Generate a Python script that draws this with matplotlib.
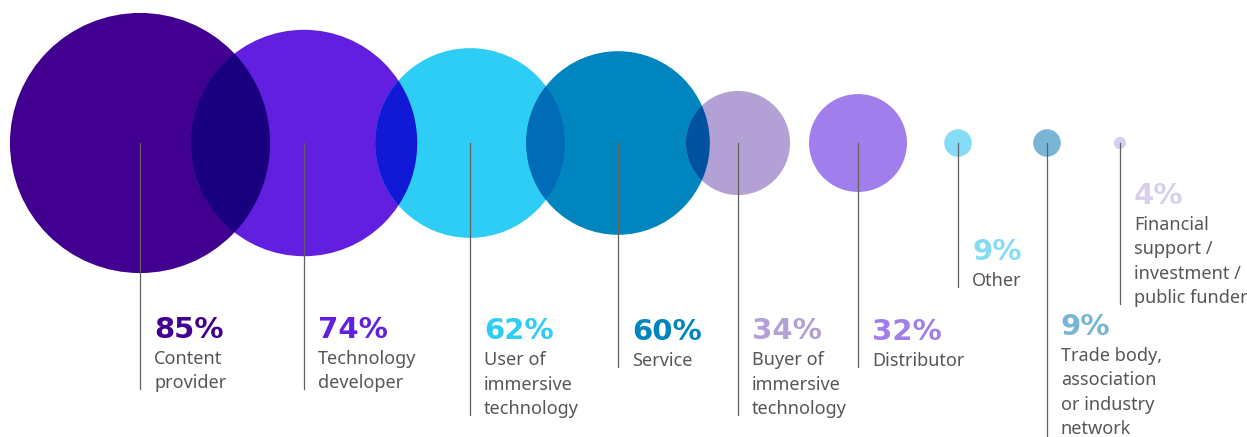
import numpy as np
import matplotlib
matplotlib.use("Agg")
import matplotlib.pyplot as plt
from matplotlib.patches import Circle, Polygon
from matplotlib.colors import to_rgb

# share of respondents by role
values = [85, 74, 62, 60, 34, 32, 9, 9, 4]
labels = ["Content\nprovider", "Technology\ndeveloper", "User of\nimmersive\ntechnology",
          "Service", "Buyer of\nimmersive\ntechnology", "Distributor", "Other",
          "Trade body,\nassociation\nor industry\nnetwork",
          "Financial\nsupport /\ninvestment /\npublic funder"]
colors = ["#410090", "#621fdf", "#2ecdf5", "#0085be", "#b3a0d4",
          "#a07fec", "#84dcf7", "#79b5d5", "#d8cfee"]

# layout in pixels
centers_x = [140, 304, 470, 618, 738, 858, 958, 1047, 1120]
center_y = 143
line_end = [387, 387, 413, 365, 413, 365, 285, 437, 302]
px_per_pct = 1.53
line_h = 24.3

W, H = 1247, 437
fig = plt.figure(figsize=(W / 100, H / 100), dpi=100)
ax = fig.add_axes([0, 0, 1, 1])
ax.set_xlim(0, W)
ax.set_ylim(H, 0)
ax.set_aspect("equal")
ax.axis("off")


def multiply(c1, c2):
    return tuple(a * b for a, b in zip(to_rgb(c1), to_rgb(c2)))


def lens(c1, r1, c2, r2, n=720):
    # intersection of two circles as a polygon
    t = np.linspace(0, 2 * np.pi, n, endpoint=False)
    p1 = np.c_[c1[0] + r1 * np.cos(t), c1[1] + r1 * np.sin(t)]
    p2 = np.c_[c2[0] + r2 * np.cos(t), c2[1] + r2 * np.sin(t)]
    p1 = p1[np.hypot(p1[:, 0] - c2[0], p1[:, 1] - c2[1]) <= r2]
    p2 = p2[np.hypot(p2[:, 0] - c1[0], p2[:, 1] - c1[1]) <= r1]
    pts = np.vstack([p1, p2])
    if len(pts) < 3:
        return None
    m = pts.mean(axis=0)
    order = np.argsort(np.arctan2(pts[:, 1] - m[1], pts[:, 0] - m[0]))
    return pts[order]


radii = [v * px_per_pct for v in values]
for i, (x, r, c) in enumerate(zip(centers_x, radii, colors)):
    ax.add_patch(Circle((x, center_y), r, color=c, lw=0, zorder=1))
    if i > 0:
        pts = lens((centers_x[i - 1], center_y), radii[i - 1], (x, center_y), r)
        if pts is not None:
            ax.add_patch(Polygon(pts, closed=True, color=multiply(c, colors[i - 1]),
                                 lw=0, zorder=2))

for x, v, lab, c, y_end in zip(centers_x, values, labels, colors, line_end):
    ax.plot([x, x], [center_y, y_end + 2], color="#606060", lw=0.9, zorder=3)
    rows = lab.split("\n")
    tx = x + 14
    base = min(y_end + 1, H - 3)
    for k, row in enumerate(reversed(rows)):
        ax.text(tx, base - k * line_h, row, fontsize=13, color="#565656",
                family="Noto Sans", va="baseline", ha="left")
    first = base - (len(rows) - 1) * line_h
    ax.text(tx, first - 26, f"{v}%", fontsize=21, fontweight="bold", color=c,
            family="DejaVu Sans", va="baseline", ha="left")

fig.savefig("out.png", dpi=100)
